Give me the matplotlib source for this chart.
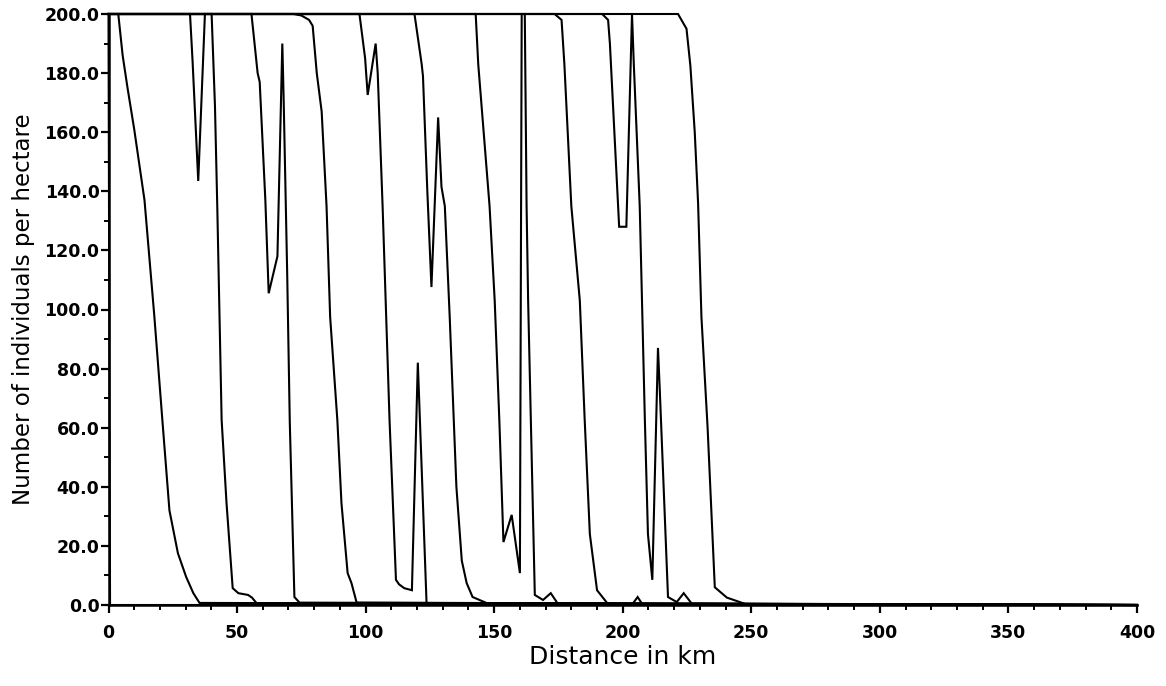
import matplotlib
matplotlib.use("Agg")
import matplotlib.pyplot as plt
from matplotlib.ticker import MultipleLocator, FormatStrFormatter

# ---- data: density profiles (distance in km, individuals per hectare) ----
x_t0 = [0, 0.6, 400]
y_t0 = [200, 0, 0]

x_t1 = [0, 3.8, 5.5, 7.4, 10.0, 14.0, 17.8, 21.0, 23.7, 27.0, 30.2, 33.0, 35.4, 400]
y_t1 = [200, 200, 186, 175, 161, 137, 98, 62, 32, 17.5, 9.5, 4, 0.7, 0]

x_t2 = [0, 31.7, 32.7, 34.9, 37.5, 40.1, 41.4, 42.3, 44.0, 45.9, 48.3, 50.5, 54.3, 55.8, 57.6, 400]
y_t2 = [200, 200, 184, 143.5, 200, 200, 169, 135, 62.6, 34.5, 5.7, 4, 3.4, 2.5, 0.6, 0]

x_t3 = [0, 55.6, 58.0, 58.8, 61.0, 62.3, 65.7, 67.6, 68.1, 69.5, 70.5, 72.3, 74.3, 400]
y_t3 = [200, 200, 180, 177, 137, 105.5, 118, 190, 172, 112, 62, 2.7, 0.8, 0]

x_t4 = [0, 72.0, 75.0, 78.0, 79.4, 81.0, 82.9, 84.8, 86.2, 89.0, 90.6, 93.0, 94.5, 96.5, 400]
y_t4 = [200, 200, 199.5, 198, 196, 180, 167, 135, 97.5, 62.6, 34.5, 10.8, 7.4, 0.8, 0]

x_t5 = [0, 97.6, 99.8, 100.8, 103.9, 104.7, 106.6, 109.3, 111.8, 113.0, 115.0, 118.0, 120.3, 123.7, 400]
y_t5 = [200, 200, 185, 172.6, 190, 180, 135, 62.6, 8.5, 7.0, 5.7, 5, 82, 0.6, 0]

x_t6 = [0, 119.0, 121.8, 122.3, 124.0, 125.6, 128.2, 129.5, 130.8, 132.7, 135.3, 137.4, 139.3, 141.6, 147.5, 400]
y_t6 = [200, 200, 183, 179, 140, 107.6, 165, 141.5, 135, 97.5, 40, 15, 7.4, 2.7, 0.5, 0]

x_t7 = [0, 142.8, 143.8, 148.2, 150.2, 152.0, 153.6, 156.8, 160.0, 160.7, 161.9, 162.6, 163.2, 165.8, 169.0, 172.0, 174.7, 400]
y_t7 = [200, 200, 183, 135, 103, 62.6, 21.3, 30.5, 10.8, 200, 200, 135, 103, 3.4, 1.7, 4, 0.5, 0]

x_t8 = [0, 173.5, 176.2, 177.3, 180.0, 183.3, 185.2, 187.2, 190.0, 194.0, 203.5, 205.8, 207.8, 400]
y_t8 = [200, 200, 198, 183, 135, 103, 62.6, 24, 5, 0.6, 0, 2.7, 0, 0]

x_t9 = [0, 192.0, 194.3, 195.0, 198.6, 201.4, 203.6, 204.3, 206.6, 208.6, 209.8, 211.5, 213.7, 214.4, 217.6, 221.0, 223.7, 226.8, 400]
y_t9 = [200, 200, 198, 190, 128, 128, 200, 183, 135, 62.6, 24, 8.5, 87, 72.8, 2.7, 1, 4, 0.5, 0]

x_t10 = [0, 221.5, 224.8, 226.3, 228.0, 229.3, 230.6, 233.0, 235.8, 240.5, 245.5, 248.6, 400]
y_t10 = [200, 200, 195, 182.5, 160, 136, 97.5, 60, 6, 2.5, 1, 0, 0]

profiles = [(x_t0, y_t0), (x_t1, y_t1), (x_t2, y_t2), (x_t3, y_t3), (x_t4, y_t4),
            (x_t5, y_t5), (x_t6, y_t6), (x_t7, y_t7), (x_t8, y_t8), (x_t9, y_t9),
            (x_t10, y_t10)]

x_label = "Distance in km"
y_label = "Number of individuals per hectare"

# ---- figure ----
fig = plt.figure(figsize=(11.66, 6.86), dpi=100)
ax = fig.add_axes([108.5 / 1166, 1 - 605 / 686, (1137 - 108.5) / 1166, (605 - 14) / 686])

for xs, ys in profiles:
    ax.plot(xs, ys, color="black", lw=1.5, clip_on=False, solid_joinstyle="miter")

ax.set_xlim(0, 400)
ax.set_ylim(0, 200)

for s in ("top", "right"):
    ax.spines[s].set_visible(False)
for s in ("left", "bottom"):
    ax.spines[s].set_linewidth(1.8)

ax.xaxis.set_major_locator(MultipleLocator(50))
ax.xaxis.set_minor_locator(MultipleLocator(10))
ax.yaxis.set_major_locator(MultipleLocator(20))
ax.yaxis.set_minor_locator(MultipleLocator(10))
ax.yaxis.set_major_formatter(FormatStrFormatter("%.1f"))

ax.tick_params(axis="both", which="major", direction="out", length=6, width=1.6, colors="black")
ax.tick_params(axis="both", which="minor", direction="out", length=3.5, width=1.4, colors="black")
ax.tick_params(axis="x", which="major", pad=8)
ax.tick_params(axis="y", which="major", pad=0.5)

for lab in ax.get_xticklabels() + ax.get_yticklabels():
    lab.set_fontfamily("DejaVu Sans")
    lab.set_fontweight("bold")
    lab.set_fontsize(12.5)

ax.set_xlabel(x_label, fontsize=18, family="DejaVu Sans")
ax.set_ylabel(y_label, fontsize=16.5, family="DejaVu Sans")
ax.xaxis.set_label_coords(0.5, (605 - 664) / 591)
ax.xaxis.label.set_va("baseline")
ax.yaxis.set_label_coords((24 - 108.5) / (1137 - 108.5), 0.5)
ax.yaxis.label.set_va("center")

fig.savefig("out.png", dpi=100, facecolor="white")
